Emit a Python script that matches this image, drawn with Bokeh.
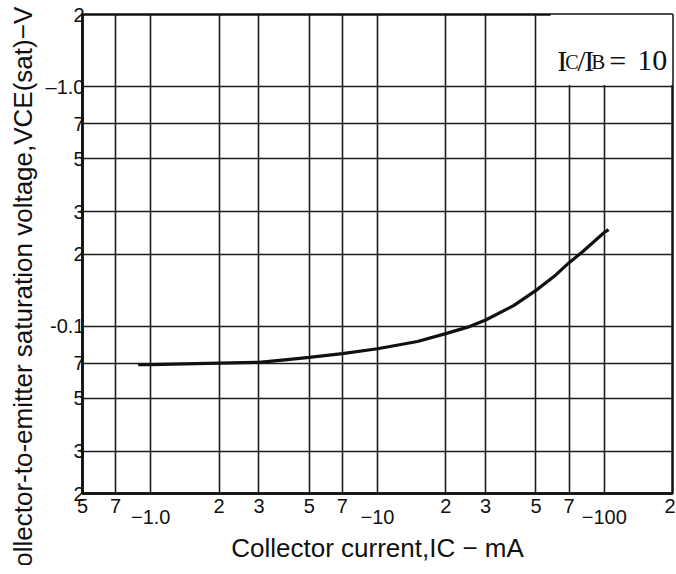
from bokeh.plotting import figure
from bokeh.models import FixedTicker, LogAxis, Label, BoxAnnotation, Range1d
from bokeh.embed import file_html
from bokeh.resources import INLINE

# ---- data ----
ic_ma = [0.88, 1.0, 2.0, 3.0, 4.0, 5.0, 7.0, 10.0, 15.0, 20.0, 25.0, 30.0, 40.0, 50.0, 60.0, 70.0, 80.0, 100.0, 104.5]
vce_sat = [0.069, 0.069, 0.070, 0.0706, 0.0725, 0.074, 0.0767, 0.0804, 0.0862, 0.093, 0.099, 0.106, 0.122, 0.141, 0.161, 0.184, 0.204, 0.246, 0.253]

x_ticks = [0.5, 0.7, 1, 2, 3, 5, 7, 10, 20, 30, 50, 70, 100, 200]
x_digit_labels = ["5", "7", "", "2", "3", "5", "7", "", "2", "3", "5", "7", "", "2"]
x_decade_ticks = [1, 10, 100]
x_decade_labels = ["\u22121.0", "\u221210", "\u2212100"]
y_ticks = [0.02, 0.03, 0.05, 0.07, 0.1, 0.2, 0.3, 0.5, 0.7, 1.0, 2.0]
y_labels = ["2", "3", "5", "7", "-0.1", "2", "3", "5", "7", "\u20131.0", "2"]

INK = "#111111"
SANS = "Liberation Sans"
SERIF = "Liberation Serif"

p = figure(x_axis_type="log", y_axis_type="log",
           x_range=Range1d(0.5, 200), y_range=Range1d(0.02, 2),
           width=675, height=565,
           min_border_left=82, min_border_right=3, min_border_top=14, min_border_bottom=66,
           title="Collector-to-emitter saturation voltage,VCE(sat)\u2212V",
           title_location="left",
           output_backend="svg", toolbar_location=None)

p.background_fill_color = "white"
p.border_fill_color = "white"
p.outline_line_color = INK
p.outline_line_width = 2.5

# rotated y-axis title (as the plot title on the left side)
p.title.text_font = SANS
p.title.text_font_size = "26px"
p.title.text_font_style = "normal"
p.title.text_color = INK
p.title.align = "left"
p.title.offset = -92
p.title.standoff = 10

# grids
for g, t in ((p.xgrid, x_ticks), (p.ygrid, y_ticks)):
    g.ticker = FixedTicker(ticks=t)
    g.grid_line_color = "#1c1c1c"
    g.grid_line_width = 1.6
    g.minor_grid_line_color = None

# y axis
ya = p.yaxis[0]
ya.ticker = FixedTicker(ticks=y_ticks)
ya.major_label_overrides = {t: l for t, l in zip(y_ticks, y_labels)}
ya.major_tick_out = 0
ya.major_tick_in = 0
ya.minor_tick_out = 0
ya.minor_tick_in = 0
ya.axis_line_color = INK
ya.axis_line_width = 2.5
ya.major_label_standoff = -2
ya.major_label_text_font = SANS
ya.major_label_text_font_size = "20px"
ya.major_label_text_color = INK

# x axis (digits)
xa = p.xaxis[0]
xa.ticker = FixedTicker(ticks=x_ticks)
xa.major_label_overrides = {t: l for t, l in zip(x_ticks, x_digit_labels)}
xa.major_tick_out = 0
xa.major_tick_in = 0
xa.minor_tick_out = 0
xa.minor_tick_in = 0
xa.axis_line_color = INK
xa.axis_line_width = 2.5
xa.major_label_standoff = 5
xa.major_label_text_font = SANS
xa.major_label_text_font_size = "20px"
xa.major_label_text_color = INK

# x axis (decade labels, slightly lower)
xa2 = LogAxis(ticker=FixedTicker(ticks=x_decade_ticks))
xa2.major_label_overrides = {t: l for t, l in zip(x_decade_ticks, x_decade_labels)}
xa2.axis_line_color = None
xa2.major_tick_line_color = None
xa2.minor_tick_line_color = None
xa2.major_label_standoff = -12
xa2.major_label_text_font = SANS
xa2.major_label_text_font_size = "20px"
xa2.major_label_text_color = INK
xa2.axis_label = "Collector current,IC \u2212 mA"
xa2.axis_label_text_font = SANS
xa2.axis_label_text_font_size = "26px"
xa2.axis_label_text_font_style = "normal"
xa2.axis_label_text_color = INK
xa2.axis_label_standoff = 6
p.add_layout(xa2, "below")

# curve
p.line(ic_ma, vce_sat, line_color=INK, line_width=3.2)

# white box for the condition note
p.add_layout(BoxAnnotation(left=58, right=200, bottom=1.016, top=2.0,
                           fill_color="white", fill_alpha=1.0, line_color=None))

def note(txt, dx, y, size):
    p.add_layout(Label(x=62, y=y, x_offset=dx, text=txt, text_font=SERIF,
                       text_font_size=size, text_color=INK,
                       text_baseline="alphabetic", text_align="left"))

note("I", 0, 1.29, "30px")
note("C", 8, 1.265, "20px")
note("/", 20, 1.29, "30px")
note("I", 27, 1.29, "30px")
note("B", 34, 1.265, "21px")
note("=", 52, 1.29, "30px")
note("10", 80, 1.29, "30px")

open("out.html", "w").write(file_html(p, INLINE))
